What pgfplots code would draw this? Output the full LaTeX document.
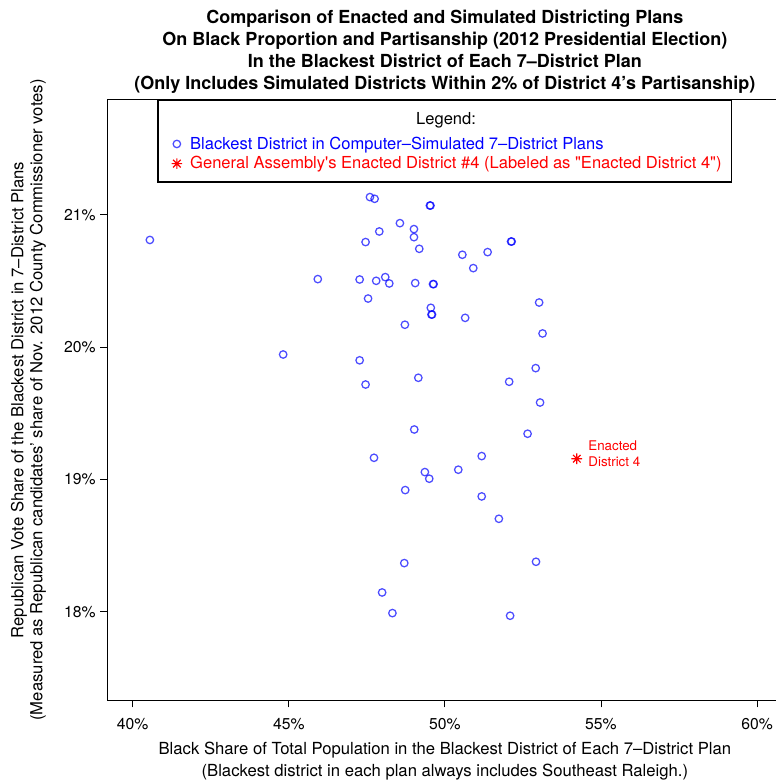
\documentclass[border=0pt]{standalone}
\usepackage{pgfplots}
\pgfplotsset{compat=1.18}
\usepackage{fontspec}
\setmainfont{TeX Gyre Heros}
\newfontfamily\plainheros{TeX Gyre Heros}[Ligatures=TeXOff]

% R-style asterisk (pch 8): a plus and a cross
\pgfdeclareplotmark{rast}{%
  \pgfpathmoveto{\pgfqpoint{-\pgfplotmarksize}{0pt}}%
  \pgfpathlineto{\pgfqpoint{\pgfplotmarksize}{0pt}}%
  \pgfpathmoveto{\pgfqpoint{0pt}{-\pgfplotmarksize}}%
  \pgfpathlineto{\pgfqpoint{0pt}{\pgfplotmarksize}}%
  \pgfpathmoveto{\pgfqpoint{-0.707\pgfplotmarksize}{-0.707\pgfplotmarksize}}%
  \pgfpathlineto{\pgfqpoint{0.707\pgfplotmarksize}{0.707\pgfplotmarksize}}%
  \pgfpathmoveto{\pgfqpoint{-0.707\pgfplotmarksize}{0.707\pgfplotmarksize}}%
  \pgfpathlineto{\pgfqpoint{0.707\pgfplotmarksize}{-0.707\pgfplotmarksize}}%
  \pgfusepathqstroke}

\begin{document}
\begin{tikzpicture}
\begin{axis}[
    at={(0,0)}, anchor=south west,
    scale only axis,
    clip=false,
    width=505.7pt, height=450pt,
    xmin=39.2, xmax=60.8,
    ymin=17.332, ymax=21.868,
    xtick={40,45,50,55,60},
    xticklabels={40\%,45\%,50\%,55\%,60\%},
    ytick={18,19,20,21},
    yticklabels={18\%,19\%,20\%,21\%},
    tick align=outside,
    xtick pos=bottom, ytick pos=left,
    major tick length=5.5pt,
    tick style={black, line width=0.6pt},
    axis line style={line width=0.75pt},
    ticklabel style={font=\fontsize{11.8}{13}\selectfont},
    xticklabel shift=4.5pt,
    legend cell align=left,
    legend style={at={(0.5,1)}, anchor=north, draw=black, line width=1.1pt,
        font=\fontsize{12.4}{14.6}\selectfont, inner xsep=5.5pt, inner ysep=6.5pt,
        row sep=0pt,
        /tikz/every odd column/.append style={column sep=4pt}},
]

\addlegendimage{empty legend}
\addlegendentry{\hspace*{169.5pt}\raisebox{4pt}{Legend:}}

\addplot[only marks, mark=o, mark size=2.8pt,
    mark options={draw=blue, draw opacity=0.7, line width=0.95pt}]
coordinates {
(40.55,20.810) (47.60,21.134) (47.75,21.121) (49.52,21.070) (49.54,21.070)
(48.56,20.937) (49.01,20.892) (49.01,20.831) (47.90,20.874) (47.46,20.794)
(49.18,20.743) (50.56,20.698) (51.37,20.718) (52.12,20.798) (52.14,20.798)
(50.91,20.597) (45.93,20.514) (47.27,20.511) (47.80,20.501) (48.09,20.529)
(48.22,20.481) (49.05,20.484) (49.62,20.476) (49.64,20.476) (47.54,20.367)
(49.55,20.297) (49.57,20.246) (49.59,20.246) (48.72,20.169) (50.65,20.221)
(53.02,20.337) (53.13,20.103) (44.82,19.944) (47.27,19.900) (47.46,19.717)
(49.15,19.768) (52.91,19.841) (52.06,19.738) (53.05,19.581) (52.65,19.345)
(49.02,19.377) (47.73,19.163) (51.18,19.176) (50.43,19.073) (49.36,19.055)
(49.50,19.005) (48.73,18.919) (51.18,18.871) (51.73,18.702) (48.70,18.367)
(52.92,18.377) (47.99,18.145) (48.32,17.989) (52.09,17.969)
};
\addlegendentry{\textcolor{blue}{Blackest District in Computer--Simulated 7--District Plans}}

\addplot[only marks, mark=rast, mark size=4pt,
    mark options={draw=red, line width=0.85pt}]
coordinates {(54.226,19.156)};
\addlegendentry{\textcolor{red}{\plainheros General Assembly's Enacted District \#4 (Labeled as "Enacted District 4")}}

\node[anchor=west, align=left, text=red, inner sep=0pt,
    font=\fontsize{10}{12}\selectfont] at (axis cs:54.59,19.193)
    {Enacted\\District 4};

% titles
\node[anchor=base, font=\bfseries\fontsize{13.5}{15}\selectfont] at ([yshift=57pt]rel axis cs:0.5,1)
    {Comparison of Enacted and Simulated Districting Plans};
\node[anchor=base, font=\bfseries\fontsize{13.5}{15}\selectfont] at ([yshift=40.5pt]rel axis cs:0.5,1)
    {On Black Proportion and Partisanship (2012 Presidential Election)};
\node[anchor=base, font=\bfseries\fontsize{13.5}{15}\selectfont] at ([yshift=24pt]rel axis cs:0.5,1)
    {In the Blackest District of Each 7--District Plan};
\node[anchor=base, font=\bfseries\fontsize{13.5}{15}\selectfont] at ([yshift=7.5pt]rel axis cs:0.5,1)
    {(Only Includes Simulated Districts Within 2\% of District 4’s Partisanship)};

% x label
\node[anchor=base, font=\fontsize{12.5}{14}\selectfont] at ([yshift=-40.5pt]rel axis cs:0.5,0)
    {Black Share of Total Population in the Blackest District of Each 7--District Plan};
\node[anchor=base, font=\fontsize{12.5}{14}\selectfont] at ([yshift=-57pt]rel axis cs:0.5,0)
    {(Blackest district in each plan always includes Southeast Raleigh.)};

% y label
\node[anchor=base, rotate=90, font=\fontsize{12.5}{14}\selectfont] at ([xshift=-63.2pt]rel axis cs:0,0.5)
    {Republican Vote Share of the Blackest District in 7--District Plans};
\node[anchor=base, rotate=90, font=\fontsize{12.5}{14}\selectfont] at ([xshift=-49pt]rel axis cs:0,0.5)
    {(Measured as Republican candidates' share of Nov. 2012 County Commissioner votes)};
\end{axis}
\pgfresetboundingbox
\useasboundingbox (-80.8pt,-62.25pt) rectangle (500.5pt,525pt);
\end{tikzpicture}
\end{document}
